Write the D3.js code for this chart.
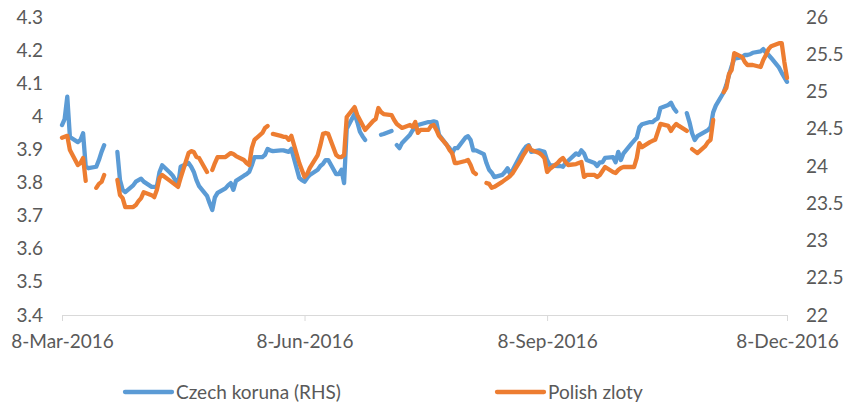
<!DOCTYPE html>
<html>
<head>
<meta charset="utf-8">
<script src="https://cdn.jsdelivr.net/npm/d3@7/dist/d3.min.js"></script>
<style>
  html, body { margin: 0; padding: 0; background: #fff; }
  svg text { font-family: Lato, "Open Sans", sans-serif; fill: #595959; }
</style>
</head>
<body>
<svg id="chart" width="846" height="405"></svg>
<script>
/* CZK (right axis) vs PLN (left axis), daily, Mar-Dec 2016.
   null = no fixing that day -> gap in the line */
const dates = [
  "2016-03-08","2016-03-09","2016-03-10","2016-03-11","2016-03-14","2016-03-15","2016-03-16","2016-03-17","2016-03-18",
  "2016-03-21","2016-03-22","2016-03-23","2016-03-24","2016-03-25","2016-03-28","2016-03-29","2016-03-30","2016-03-31",
  "2016-04-01","2016-04-04","2016-04-05","2016-04-06","2016-04-07","2016-04-08","2016-04-11","2016-04-12","2016-04-13",
  "2016-04-14","2016-04-15","2016-04-18","2016-04-19","2016-04-20","2016-04-21","2016-04-22","2016-04-25","2016-04-26",
  "2016-04-27","2016-04-28","2016-04-29","2016-05-02","2016-05-03","2016-05-04","2016-05-05","2016-05-06","2016-05-09",
  "2016-05-10","2016-05-11","2016-05-12","2016-05-13","2016-05-16","2016-05-17","2016-05-18","2016-05-19","2016-05-20",
  "2016-05-23","2016-05-24","2016-05-25","2016-05-26","2016-05-27","2016-05-30","2016-05-31","2016-06-01","2016-06-02",
  "2016-06-03","2016-06-06","2016-06-07","2016-06-08","2016-06-09","2016-06-10","2016-06-13","2016-06-14","2016-06-15",
  "2016-06-16","2016-06-17","2016-06-20","2016-06-21","2016-06-22","2016-06-23","2016-06-24","2016-06-27","2016-06-28",
  "2016-06-29","2016-06-30","2016-07-01","2016-07-04","2016-07-05","2016-07-06","2016-07-07","2016-07-08","2016-07-11",
  "2016-07-12","2016-07-13","2016-07-14","2016-07-15","2016-07-18","2016-07-19","2016-07-20","2016-07-21","2016-07-22",
  "2016-07-25","2016-07-26","2016-07-27","2016-07-28","2016-07-29","2016-08-01","2016-08-02","2016-08-03","2016-08-04",
  "2016-08-05","2016-08-08","2016-08-09","2016-08-10","2016-08-11","2016-08-12","2016-08-15","2016-08-16","2016-08-17",
  "2016-08-18","2016-08-19","2016-08-22","2016-08-23","2016-08-24","2016-08-25","2016-08-26","2016-08-29","2016-08-30",
  "2016-08-31","2016-09-01","2016-09-02","2016-09-05","2016-09-06","2016-09-07","2016-09-08","2016-09-09","2016-09-12",
  "2016-09-13","2016-09-14","2016-09-15","2016-09-16","2016-09-19","2016-09-20","2016-09-21","2016-09-22","2016-09-23",
  "2016-09-26","2016-09-27","2016-09-28","2016-09-29","2016-09-30","2016-10-03","2016-10-04","2016-10-05","2016-10-06",
  "2016-10-07","2016-10-10","2016-10-11","2016-10-12","2016-10-13","2016-10-14","2016-10-17","2016-10-18","2016-10-19",
  "2016-10-20","2016-10-21","2016-10-24","2016-10-25","2016-10-26","2016-10-27","2016-10-28","2016-10-31","2016-11-01",
  "2016-11-02","2016-11-03","2016-11-04","2016-11-07","2016-11-08","2016-11-09","2016-11-10","2016-11-11","2016-11-14",
  "2016-11-15","2016-11-16","2016-11-17","2016-11-18","2016-11-21","2016-11-22","2016-11-23","2016-11-24","2016-11-25",
  "2016-11-28","2016-11-29","2016-11-30","2016-12-01","2016-12-02","2016-12-05","2016-12-06","2016-12-07","2016-12-08"
];

const czk = [
  24.55,24.63,24.93,24.39,24.32,24.35,24.44,23.99,23.97,
  23.99,24.08,24.19,24.28,null,null,24.19,23.81,23.68,
  23.65,23.74,23.79,23.81,23.83,23.79,23.72,23.72,23.73,
  23.92,24.01,23.91,23.87,23.81,23.73,23.99,24.04,23.99,
  23.92,23.81,23.73,23.60,23.50,23.41,23.58,23.64,23.70,
  23.74,23.77,23.68,23.80,23.87,23.89,23.92,24.01,24.12,
  24.12,24.15,24.23,24.21,24.20,24.21,24.21,24.20,24.19,
  24.23,23.84,23.81,23.79,23.84,23.88,23.95,24.00,24.03,
  24.08,24.08,23.89,23.89,23.95,23.77,24.50,24.70,24.59,
  24.46,24.40,24.35,null,null,null,24.42,24.43,24.47,
  null,24.28,24.24,24.31,24.42,24.48,24.52,24.55,24.56,
  24.59,24.59,24.60,24.59,24.42,24.28,24.24,24.17,24.24,
  24.24,24.38,24.40,24.35,24.21,24.21,24.16,24.04,23.95,
  23.91,23.85,23.88,23.92,23.97,23.89,23.95,24.15,24.21,
  24.26,24.28,24.19,24.21,24.20,24.19,24.08,24.01,24.00,
  24.00,23.99,24.04,24.07,24.17,24.15,24.21,24.17,24.08,
  24.04,24.00,24.05,24.05,24.11,24.12,24.05,24.19,24.08,
  24.17,24.30,24.34,24.38,24.52,24.56,24.59,24.59,24.62,
  24.64,24.78,24.82,24.85,24.78,24.73,null,24.71,24.59,
  24.44,24.35,24.40,24.46,24.48,24.52,24.72,24.81,24.99,
  25.09,25.22,25.34,25.44,25.46,25.49,25.49,25.50,25.52,
  25.54,25.57,25.52,25.49,25.45,25.32,25.25,25.19,25.13
];

const pln = [
  3.935,3.938,3.941,3.898,3.853,3.859,3.874,3.805,null,
  3.784,3.796,3.802,3.823,null,null,3.808,3.762,3.753,
  3.726,3.726,3.732,3.744,3.753,3.771,3.762,3.756,3.778,
  3.814,3.823,3.805,3.799,3.793,3.787,3.814,3.889,3.895,
  3.892,3.877,3.874,3.832,null,3.838,3.859,3.877,3.877,
  3.883,3.889,3.886,3.880,3.868,3.859,3.853,3.904,3.929,
  3.950,3.965,3.971,null,3.947,3.941,3.938,3.938,3.929,
  3.941,3.859,3.838,3.817,3.826,3.844,3.883,3.913,3.947,
  3.950,3.947,3.883,3.877,3.877,3.883,3.998,4.028,4.004,
  3.989,3.974,3.959,3.986,3.992,4.025,4.013,4.007,4.004,
  3.989,3.977,3.971,3.965,3.974,3.968,3.983,3.950,3.959,
  3.959,3.971,3.974,3.959,3.941,3.913,3.898,3.889,3.859,
  3.859,3.865,3.868,3.853,3.832,3.826,null,3.799,3.796,
  3.784,3.787,3.802,3.808,3.814,3.820,3.829,3.868,3.883,
  3.895,3.910,3.898,3.889,3.883,3.874,3.832,3.841,3.859,
  3.868,3.874,3.862,3.853,3.856,3.859,3.862,3.817,3.823,
  3.823,3.817,3.823,3.835,3.847,3.832,3.829,3.838,3.844,
  3.847,3.847,3.847,3.874,3.919,3.907,3.922,3.926,3.929,
  3.953,3.977,3.971,3.956,3.968,3.977,3.971,3.956,null,
  3.901,3.895,3.889,3.910,3.922,3.929,3.989,null,4.073,
  4.086,4.128,4.140,4.191,4.179,4.164,4.155,4.155,4.155,
  4.149,4.170,4.185,4.203,4.212,4.221,4.221,4.164,4.116
];

const xTicks = ["2016-03-08", "2016-06-08", "2016-09-08", "2016-12-08"];
const leftTicks = [3.4, 3.5, 3.6, 3.7, 3.8, 3.9, 4.0, 4.1, 4.2, 4.3];
const rightTicks = [22, 22.5, 23, 23.5, 24, 24.5, 25, 25.5, 26];
const seriesNames = ["Czech koruna (RHS)", "Polish zloty"];
const seriesColors = ["#5B9BD5", "#ED7D31"];

const parse = d3.timeParse("%Y-%m-%d");
const svg = d3.select("#chart");

const plot = { left: 62, right: 787, top: 17, bottom: 315 };

const x = d3.scaleTime()
  .domain([parse(xTicks[0]), parse(xTicks[xTicks.length - 1])])
  .range([plot.left, plot.right]);
const yL = d3.scaleLinear().domain([3.4, 4.3]).range([plot.bottom, plot.top]);
const yR = d3.scaleLinear().domain([22, 26]).range([plot.bottom, plot.top]);

const rows = dates.map((d, i) => ({ date: parse(d), czk: czk[i], pln: pln[i] }));

// left axis (PLN)
const gL = svg.append("g")
  .attr("transform", `translate(${plot.left - 19},0)`)
  .call(d3.axisLeft(yL).tickValues(leftTicks).tickSize(0).tickPadding(0).tickFormat(d3.format(".1~f")));
gL.select(".domain").remove();

// right axis (CZK)
const gR = svg.append("g")
  .attr("transform", `translate(${plot.right + 19},0)`)
  .call(d3.axisRight(yR).tickValues(rightTicks).tickSize(0).tickPadding(0).tickFormat(d3.format(".1~f")));
gR.select(".domain").remove();

// bottom axis
const gX = svg.append("g")
  .attr("transform", `translate(0,${plot.bottom})`)
  .call(d3.axisBottom(x).tickValues(xTicks.map(parse)).tickSize(6).tickPadding(14)
    .tickFormat(d3.timeFormat("%-d-%b-%Y")));
gX.select(".domain").attr("stroke", "#d9d9d9").attr("stroke-width", 1);
gX.selectAll(".tick line").attr("stroke", "#d9d9d9");

svg.selectAll(".tick text")
  .attr("font-size", "19px")
  .attr("fill", "#595959")
  .style("font-family", "Lato, 'Open Sans', sans-serif");

// lines
const czkLine = d3.line()
  .defined(d => d.czk !== null)
  .x(d => x(d.date)).y(d => yR(d.czk));
const plnLine = d3.line()
  .defined(d => d.pln !== null)
  .x(d => x(d.date)).y(d => yL(d.pln));

svg.append("path")
  .datum(rows)
  .attr("fill", "none")
  .attr("stroke", seriesColors[0])
  .attr("stroke-width", 4.3)
  .attr("stroke-linejoin", "round")
  .attr("stroke-linecap", "round")
  .attr("d", czkLine);

svg.append("path")
  .datum(rows)
  .attr("fill", "none")
  .attr("stroke", seriesColors[1])
  .attr("stroke-width", 4.3)
  .attr("stroke-linejoin", "round")
  .attr("stroke-linecap", "round")
  .attr("d", plnLine);

// legend
const legendX = [125, 497];
const legend = svg.append("g").selectAll("g")
  .data(seriesNames)
  .join("g")
  .attr("transform", (d, i) => `translate(${legendX[i]},392)`);
legend.append("line")
  .attr("x1", 0).attr("x2", 47).attr("y1", 0).attr("y2", 0)
  .attr("stroke", (d, i) => seriesColors[i])
  .attr("stroke-width", 4.3)
  .attr("stroke-linecap", "round");
legend.append("text")
  .attr("x", 51)
  .attr("dy", "0.35em")
  .attr("font-size", "19px")
  .text(d => d);
</script>
</body>
</html>
